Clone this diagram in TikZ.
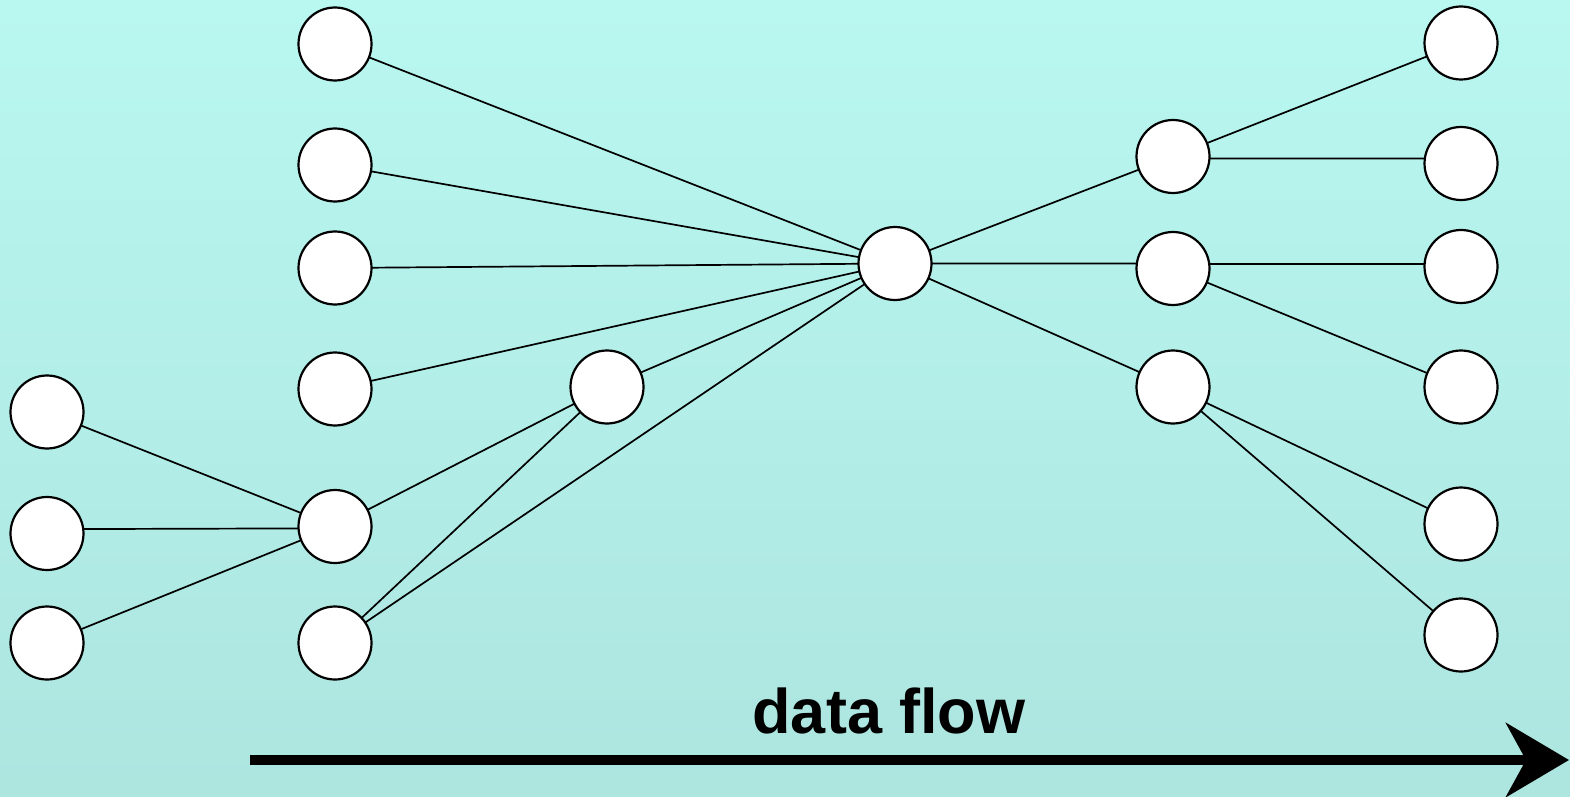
\documentclass[tikz,border=0pt]{standalone}
\usepackage{fontspec}
\setmainfont{Liberation Sans}
\usetikzlibrary{arrows.meta}
\definecolor{bgtop}{RGB}{185,247,241}
\definecolor{bgbottom}{RGB}{173,229,223}
\begin{document}
\begin{tikzpicture}[x=0.5pt,y=-0.5pt,
  unit/.style={circle,draw=black,fill=white,line width=1.1pt,minimum size=36.5pt,inner sep=0pt,outer sep=0pt},
  link/.style={line width=0.85pt,black},
  flow/.style={line width=5pt,-{Stealth[length=31.5pt,width=37pt,inset=10pt]}}]
  % background
  \shade[top color=bgtop,bottom color=bgbottom] (0,0) rectangle (1570,797);
  \useasboundingbox (0,0) rectangle (1570,797);

  % input layer
  \node[unit] (a1) at (47,412) {};
  \node[unit] (a2) at (47,533.5) {};
  \node[unit] (a3) at (47,643) {};

  % second layer
  \node[unit] (b1) at (335,44) {};
  \node[unit] (b2) at (335,165) {};
  \node[unit] (b3) at (335,268) {};
  \node[unit] (b4) at (335,389) {};
  \node[unit] (b5) at (335,526.5) {};
  \node[unit] (b6) at (335,643) {};

  \node[unit] (c) at (607,387) {};
  \node[unit] (hub) at (895,263.5) {};

  % fan-out layers
  \node[unit] (d1) at (1173,156.5) {};
  \node[unit] (d2) at (1173,268.5) {};
  \node[unit] (d3) at (1173,387) {};

  \node[unit] (e1) at (1461,43) {};
  \node[unit] (e2) at (1461,163.5) {};
  \node[unit] (e3) at (1461,266.5) {};
  \node[unit] (e4) at (1461,387) {};
  \node[unit] (e5) at (1461,524) {};
  \node[unit] (e6) at (1461,635) {};

  % connections
  \draw[link] (a1) -- (b5);
  \draw[link] (a2.7.1) -- (b5.183.9);
  \draw[link] (a3) -- (b5);
  \draw[link] (b5) -- (c);
  \draw[link] (b6) -- (c);
  \foreach \s in {b1,b2,b3,b4,b6,c} \draw[link] (\s) -- (hub);
  \draw[link] (hub) -- (d1);
  \draw[link] (hub.0) -- (d2.172.9);
  \draw[link] (hub) -- (d3);
  \draw[link] (d1) -- (e1);
  \draw[link] (d1.-3.9) -- (e2.172.9);
  \draw[link] (d2.7.1) -- (e3.176.1);
  \draw[link] (d2) -- (e4);
  \draw[link] (d3) -- (e5);
  \draw[link] (d3) -- (e6);

  % data flow arrow
  \node[font=\bfseries\fontsize{31.5pt}{36pt}\selectfont,anchor=base] (lbl) at (889,733) {data flow};
  \coordinate (fstart) at (250,760);
  \coordinate (fend) at (1569,760);
  \draw[flow] (fstart) -- (fend);
\end{tikzpicture}
\end{document}
